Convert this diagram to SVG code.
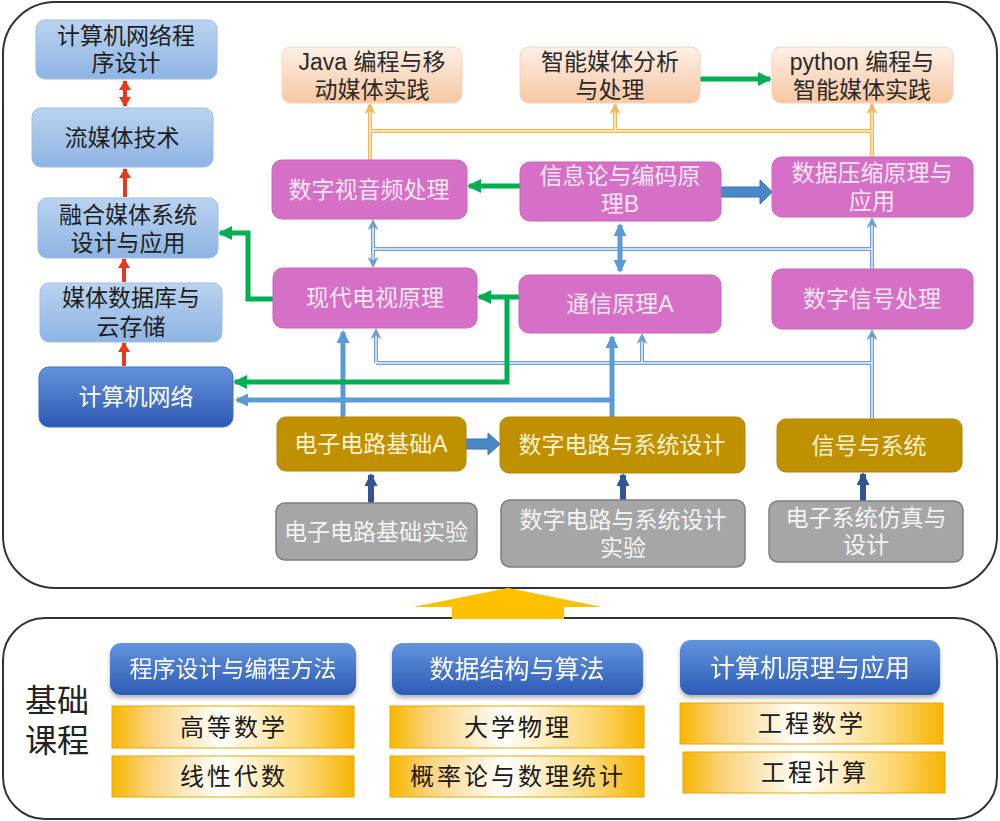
<svg xmlns="http://www.w3.org/2000/svg" width="1000" height="821" viewBox="0 0 1000 821">
<defs>
<style>
text{font-family:"Liberation Sans","Noto Sans CJK SC",sans-serif;text-anchor:middle;font-size:23px}
.lb{fill:url(#gLB);stroke:#9CBDE6;stroke-width:1}
.lbt{fill:#1e1e1e}
.or{fill:url(#gOR);stroke:#F6D3B8;stroke-width:1}
.ort{fill:#2a2a2a}
.pk{fill:#D66FC6;stroke:#CC63BC;stroke-width:1}
.pkt{fill:#FBE6F6}
.gd{fill:#BF9000;stroke:#B38600;stroke-width:1}
.gdt{fill:#FFF2CC}
.gy{fill:#A6A6A6;stroke:#7F7F7F;stroke-width:1.5}
.gyt{fill:#F4F4F4}
.db{fill:url(#gDB);stroke:#3F6FC4;stroke-width:1}
.wt{fill:#FFFFFF}
.yb{fill:url(#gYB);stroke:#E9A800;stroke-width:1}
.ybt{fill:#1a1a1a;font-size:24px;letter-spacing:3px}
.frame{fill:#FFFFFF;stroke:#333333;stroke-width:2}
.green{fill:none;stroke:#00B050;stroke-width:5;marker-end:url(#mG)}
.blue{fill:none;stroke:#5B9BD5;stroke-width:5}
.red{fill:none;stroke:#E8381E;stroke-width:4}
.dark{fill:none;stroke:#2F5597;stroke-width:6;marker-end:url(#mD)}
.tbo{fill:none;stroke:#6FA0D4;stroke-width:4}
.tbi{fill:none;stroke:#EAF1FB;stroke-width:1.5}
.yo{fill:none;stroke:#F5B75A;stroke-width:4}
.yi{fill:none;stroke:#FFEFC2;stroke-width:1.5}
</style>
<linearGradient id="gLB" x1="0" y1="0" x2="0" y2="1">
<stop offset="0" stop-color="#BAD3F0"/><stop offset="1" stop-color="#8EB4E3"/>
</linearGradient>
<linearGradient id="gOR" x1="0" y1="0" x2="0" y2="1">
<stop offset="0" stop-color="#FDF0E6"/><stop offset="0.5" stop-color="#FADBC4"/><stop offset="1" stop-color="#F7C8A2"/>
</linearGradient>
<linearGradient id="gDB" x1="0" y1="0" x2="0" y2="1">
<stop offset="0" stop-color="#6693DD"/><stop offset="1" stop-color="#2C58B2"/>
</linearGradient>
<linearGradient id="gBB" x1="0" y1="0" x2="0" y2="1">
<stop offset="0" stop-color="#6294DD"/><stop offset="1" stop-color="#2D5BB6"/>
</linearGradient>
<linearGradient id="gYB" x1="0" y1="0" x2="1" y2="0">
<stop offset="0" stop-color="#F8B600"/><stop offset="0.15" stop-color="#FBD27A"/><stop offset="0.45" stop-color="#FFFFFF"/><stop offset="0.8" stop-color="#FCD774"/><stop offset="1" stop-color="#F7B400"/>
</linearGradient>
<filter id="sh" x="-10%" y="-20%" width="120%" height="150%">
<feDropShadow dx="0" dy="3" stdDeviation="2" flood-color="#000" flood-opacity="0.3"/>
</filter>
<marker id="mG" markerUnits="userSpaceOnUse" markerWidth="14" markerHeight="14" refX="12" refY="7" orient="auto"><path d="M0,0 L14,7 L0,14 Z" fill="#00B050"/></marker>
<marker id="mB" markerUnits="userSpaceOnUse" markerWidth="13" markerHeight="13" refX="11" refY="6.5" orient="auto-start-reverse"><path d="M0,0 L13,6.5 L0,13 Z" fill="#5B9BD5"/></marker>
<marker id="mT" markerUnits="userSpaceOnUse" markerWidth="11" markerHeight="11" refX="10" refY="5.5" orient="auto-start-reverse"><path d="M0,0 L11,5.5 L0,11 L3,5.5 Z" fill="#6FA0D4"/></marker>
<marker id="mO" markerUnits="userSpaceOnUse" markerWidth="11" markerHeight="11" refX="10" refY="5.5" orient="auto"><path d="M0,0 L11,5.5 L0,11 L3,5.5 Z" fill="#F5B75A"/></marker>
<marker id="mR" markerUnits="userSpaceOnUse" markerWidth="10" markerHeight="12" refX="9" refY="6" orient="auto-start-reverse"><path d="M0,0 L10,6 L0,12 Z" fill="#E8381E"/></marker>
<marker id="mD" markerUnits="userSpaceOnUse" markerWidth="13" markerHeight="13" refX="11" refY="6.5" orient="auto"><path d="M0,0 L13,6.5 L0,13 Z" fill="#2F5597"/></marker>
</defs>
<rect width="1000" height="821" fill="#FFFFFF"/>
<g id="frames">
<rect class="frame" x="3" y="2" width="994" height="586" rx="52" ry="52"/>
<rect class="frame" x="3" y="618" width="994" height="201" rx="42" ry="42"/>
</g>
<g id="connectors">
<path class="red" d="M125 81 V106" marker-start="url(#mR)" marker-end="url(#mR)"/>
<path class="red" d="M125 197 V169" marker-end="url(#mR)"/>
<path class="red" d="M124 282 V259" marker-end="url(#mR)"/>
<path class="red" d="M124 366 V343" marker-end="url(#mR)"/>
<path class="yo" d="M370 160 V105 M370 131 H872 M615 131 V105 M872 157 V105"/>
<path class="yi" d="M370 160 V108 M370 131 H872 M615 131 V108 M872 157 V108"/>
<path fill="none" stroke="none" d="M370 130 V104" marker-end="url(#mO)"/>
<path fill="none" stroke="none" d="M615 130 V104" marker-end="url(#mO)"/>
<path fill="none" stroke="none" d="M872 130 V104" marker-end="url(#mO)"/>
<path class="tbo" d="M373 223 V264 M373 249 H872 M872 269 V221 M376 363 H872 M376 363 V332 M642 363 V337 M872 419 V333"/>
<path class="tbi" d="M373 226 V261 M373 249 H872 M872 269 V224 M376 363 H872 M376 363 V335 M642 363 V340 M872 419 V336"/>
<path fill="none" stroke="none" d="M373 240 V220" marker-end="url(#mT)"/>
<path fill="none" stroke="none" d="M373 250 V267" marker-end="url(#mT)"/>
<path fill="none" stroke="none" d="M872 240 V218" marker-end="url(#mT)"/>
<path fill="none" stroke="none" d="M376 350 V329" marker-end="url(#mT)"/>
<path fill="none" stroke="none" d="M642 350 V334" marker-end="url(#mT)"/>
<path fill="none" stroke="none" d="M872 350 V330" marker-end="url(#mT)"/>
<path class="blue" d="M343 417 V332" marker-end="url(#mB)"/>
<path class="blue" d="M612 417 V337" marker-end="url(#mB)"/>
<path class="blue" d="M612 400 H237" marker-end="url(#mB)"/>
<path class="blue" d="M620 225 V271" marker-start="url(#mB)" marker-end="url(#mB)"/>
<path d="M466 439 H488 V433 L500 444 L488 455 V449 H466 Z" fill="#4A86C8" stroke="#2E75B6" stroke-width="1"/>
<path d="M721 187 H760 V180 L772 192 L760 204 V197 H721 Z" fill="#4A86C8" stroke="#2E75B6" stroke-width="1"/>
<path class="green" d="M700 79 H770"/>
<path class="green" d="M520 186 H469"/>
<path class="green" d="M519 297 H479"/>
<path class="green" d="M507 297 V382 H235"/>
<path class="green" d="M273 299 H248 V233 H220"/>
<path class="dark" d="M371 503 V475"/>
<path class="dark" d="M623 500 V475"/>
<path class="dark" d="M863 501 V474"/>
</g>
<g id="n-jwcx">
<rect class="lb" x="36" y="20" width="181" height="59" rx="9"/>
<text class="lbt" x="126" y="44">计算机网络程<tspan x="126" dy="27">序设计</tspan></text>
</g>
<g id="n-lmt">
<rect class="lb" x="32" y="108" width="181" height="59" rx="9"/>
<text class="lbt" x="122" y="146">流媒体技术</text>
</g>
<g id="n-rhmt">
<rect class="lb" x="38" y="198" width="180" height="60" rx="9"/>
<text class="lbt" x="128" y="223">融合媒体系统<tspan x="128" dy="28">设计与应用</tspan></text>
</g>
<g id="n-mtsjk">
<rect class="lb" x="40" y="283" width="182" height="59" rx="9"/>
<text class="lbt" x="131" y="306">媒体数据库与<tspan x="131" dy="29">云存储</tspan></text>
</g>
<g id="n-jsjwl">
<rect class="db" x="39" y="367" width="194" height="60" rx="10"/>
<text class="wt" x="136" y="405">计算机网络</text>
</g>
<g id="n-java">
<rect class="or" x="282" y="47" width="180" height="56" rx="9"/>
<text class="ort" x="372" y="70">Java 编程与移<tspan x="372" dy="28">动媒体实践</tspan></text>
</g>
<g id="n-znmt">
<rect class="or" x="520" y="47" width="180" height="56" rx="9"/>
<text class="ort" x="610" y="70">智能媒体分析<tspan x="610" dy="28">与处理</tspan></text>
</g>
<g id="n-python">
<rect class="or" x="772" y="47" width="181" height="56" rx="9"/>
<text class="ort" x="862" y="70">python 编程与<tspan x="862" dy="28">智能媒体实践</tspan></text>
</g>
<g id="n-szsyp">
<rect class="pk" x="272" y="160" width="195" height="59" rx="10"/>
<text class="pkt" x="369" y="198">数字视音频处理</text>
</g>
<g id="n-xxl">
<rect class="pk" x="520" y="162" width="201" height="59" rx="10"/>
<text class="pkt" x="620" y="184">信息论与编码原<tspan x="620" dy="28">理B</tspan></text>
</g>
<g id="n-sjys">
<rect class="pk" x="772" y="157" width="201" height="60" rx="10"/>
<text class="pkt" x="872" y="181">数据压缩原理与<tspan x="872" dy="28">应用</tspan></text>
</g>
<g id="n-xddsh">
<rect class="pk" x="273" y="268" width="204" height="60" rx="10"/>
<text class="pkt" x="375" y="306">现代电视原理</text>
</g>
<g id="n-txyl">
<rect class="pk" x="519" y="275" width="202" height="58" rx="10"/>
<text class="pkt" x="620" y="312">通信原理A</text>
</g>
<g id="n-szxh">
<rect class="pk" x="772" y="269" width="201" height="60" rx="10"/>
<text class="pkt" x="872" y="307">数字信号处理</text>
</g>
<g id="n-dzdl">
<rect class="gd" x="277" y="417" width="189" height="54" rx="9"/>
<text class="gdt" x="371" y="452">电子电路基础A</text>
</g>
<g id="n-szdl">
<rect class="gd" x="500" y="417" width="245" height="56" rx="9"/>
<text class="gdt" x="622" y="453">数字电路与系统设计</text>
</g>
<g id="n-xhxt">
<rect class="gd" x="777" y="419" width="185" height="53" rx="9"/>
<text class="gdt" x="869" y="454">信号与系统</text>
</g>
<g id="n-dzsy">
<rect class="gy" x="276" y="503" width="201" height="57" rx="9"/>
<text class="gyt" x="376" y="540">电子电路基础实验</text>
</g>
<g id="n-szsy">
<rect class="gy" x="501" y="500" width="244" height="67" rx="9"/>
<text class="gyt" x="623" y="528">数字电路与系统设计<tspan x="623" dy="28">实验</tspan></text>
</g>
<g id="n-dzfz">
<rect class="gy" x="769" y="501" width="194" height="61" rx="9"/>
<text class="gyt" x="866" y="526">电子系统仿真与<tspan x="866" dy="27">设计</tspan></text>
</g>
<g id="big-arrow">
<polygon points="508,588 602,607 564,607 564,619 452,619 452,607 413,607" fill="#FFC000"/>
</g>
<g id="n-jckc">
<text x="57" y="712" style="font-size:32px;fill:#222">基础<tspan x="57" dy="40">课程</tspan></text>
</g>
<g id="n-cxsj" filter="url(#sh)">
<rect x="110" y="643" width="246" height="52" rx="11" fill="url(#gBB)"/>
<text class="wt" x="233" y="677">程序设计与编程方法</text>
</g>
<g id="n-sjjg" filter="url(#sh)">
<rect x="392" y="643" width="251" height="52" rx="11" fill="url(#gBB)"/>
<text class="wt" x="517" y="678" style="font-size:25px">数据结构与算法</text>
</g>
<g id="n-jsjyl" filter="url(#sh)">
<rect x="680" y="640" width="260" height="55" rx="11" fill="url(#gBB)"/>
<text class="wt" x="810" y="677" style="font-size:25px">计算机原理与应用</text>
</g>
<g id="n-gdsx"><rect class="yb" x="112" y="706" width="242" height="42"/><text class="ybt" x="234" y="736">高等数学</text></g>
<g id="n-xxds"><rect class="yb" x="112" y="756" width="242" height="41"/><text class="ybt" x="234" y="785">线性代数</text></g>
<g id="n-dxwl"><rect class="yb" x="390" y="706" width="254" height="42"/><text class="ybt" x="518" y="736">大学物理</text></g>
<g id="n-gll"><rect class="yb" x="390" y="756" width="254" height="41"/><text class="ybt" x="518" y="785">概率论与数理统计</text></g>
<g id="n-gcsx"><rect class="yb" x="680" y="703" width="263" height="41"/><text class="ybt" x="812" y="732">工程数学</text></g>
<g id="n-gcjs"><rect class="yb" x="683" y="752" width="262" height="41"/><text class="ybt" x="815" y="781">工程计算</text></g>
</svg>
